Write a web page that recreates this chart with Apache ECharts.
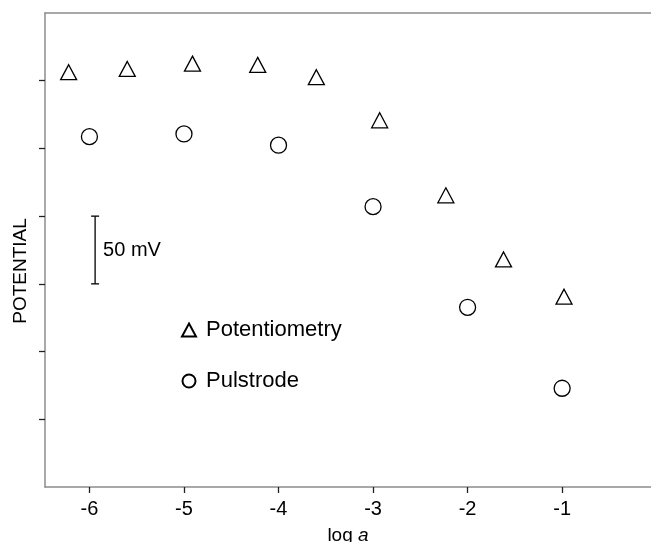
<!DOCTYPE html>
<html><head><meta charset="utf-8">
<script src="https://cdn.jsdelivr.net/npm/echarts@6/dist/echarts.min.js"></script>
<style>html,body{margin:0;padding:0;background:#fff}#c{width:651px;height:542px}</style>
</head><body><div id="c"></div>
<script>
const FONT = 'Liberation Sans, Arial, Helvetica, sans-serif';
const xTicks = [-6, -5, -4, -3, -2, -1];
const yTicks = [50, 100, 150, 200, 250, 300];
const potLogA = [-6.22, -5.6, -4.91, -4.22, -3.6, -2.93, -2.23, -1.62, -0.98];
const potMV = [306.3, 308.7, 312.6, 311.7, 302.6, 270.8, 215.4, 168.0, 140.5];
const pulLogA = [-6, -5, -4, -3, -2, -1];
const pulMV = [258.7, 260.7, 252.4, 207.0, 132.7, 72.9];
const scaleBar = [[-5.94, 150, 200, '50 mV']];

const chart = echarts.init(document.getElementById('c'));
chart.setOption({
  animation: false,
  backgroundColor: '#fff',
  textStyle: { fontFamily: FONT },
  grid: { left: 45, right: 0, top: 13, bottom: 55, outerBoundsMode: 'none', containLabel: false },
  xAxis: [{
    type: 'value', min: -6.47, max: -0.06, position: 'bottom',
    splitLine: { show: false },
    axisLine: { lineStyle: { color: '#8c8c8c', width: 1.5 } },
    axisTick: { customValues: xTicks, length: 6, lineStyle: { color: '#222', width: 1.3 } },
    axisLabel: { customValues: xTicks, color: '#000', fontSize: 20, margin: 12, fontFamily: FONT },
    name: 'log {i|a}', nameLocation: 'middle', nameGap: 39,
    nameTextStyle: { color: '#000', fontSize: 19, fontFamily: FONT,
      rich: { i: { fontStyle: 'italic', fontSize: 19, fontFamily: FONT, color: '#000' } } }
  }, {
    type: 'value', min: -6.47, max: -0.06, position: 'top',
    splitLine: { show: false }, axisTick: { show: false }, axisLabel: { show: false },
    axisLine: { show: true, lineStyle: { color: '#8c8c8c', width: 1.5 } }
  }],
  yAxis: {
    type: 'value', min: 0, max: 350,
    splitLine: { show: false },
    axisLine: { show: true, lineStyle: { color: '#8c8c8c', width: 1.5 } },
    axisTick: { show: true, customValues: yTicks, length: 6, lineStyle: { color: '#222', width: 1.3 } },
    axisLabel: { show: false }
  },
  legend: {
    orient: 'vertical', left: 181, top: 319, itemGap: 29, padding: 0,
    itemWidth: 14, itemHeight: 13,
    textStyle: { fontSize: 22, color: '#000', fontFamily: FONT, lineHeight: 22, padding: [0, 0, 0, 5] },
    itemStyle: { color: '#fff', borderColor: '#000', borderWidth: 2 },
    data: [{ name: 'Potentiometry', icon: 'triangle' }, { name: 'Pulstrode', icon: 'circle' }]
  },
  graphic: [{
    type: 'text', x: 21, y: 271, rotation: Math.PI / 2,
    style: { text: 'POTENTIAL', fill: '#000', font: '19px ' + FONT, align: 'center', verticalAlign: 'middle' }
  }],
  series: [{
    name: 'Potentiometry', type: 'scatter', symbol: 'triangle', symbolSize: [16, 15],
    itemStyle: { color: '#fff', borderColor: '#000', borderWidth: 1.3, opacity: 1 },
    data: potLogA.map((x, i) => [x, potMV[i]])
  }, {
    name: 'Pulstrode', type: 'scatter', symbol: 'circle', symbolSize: 16,
    itemStyle: { color: '#fff', borderColor: '#000', borderWidth: 1.3, opacity: 1 },
    data: pulLogA.map((x, i) => [x, pulMV[i]])
  }, {
    type: 'custom', silent: true,
    data: scaleBar,
    renderItem: function (params, api) {
      const p0 = api.coord([api.value(0), api.value(1)]);
      const p1 = api.coord([api.value(0), api.value(2)]);
      const st = { stroke: '#000', lineWidth: 1.3 };
      return { type: 'group', children: [
        { type: 'line', shape: { x1: p0[0], y1: p0[1], x2: p1[0], y2: p1[1] }, style: st },
        { type: 'line', shape: { x1: p0[0] - 4, y1: p0[1], x2: p0[0] + 4, y2: p0[1] }, style: st },
        { type: 'line', shape: { x1: p1[0] - 4, y1: p1[1], x2: p1[0] + 4, y2: p1[1] }, style: st },
        { type: 'text', x: p0[0] + 8, y: (p0[1] + p1[1]) / 2,
          style: { text: scaleBar[params.dataIndex][3], fill: '#000', font: '20px ' + FONT, verticalAlign: 'middle' } }
      ]};
    }
  }]
});
</script></body></html>
